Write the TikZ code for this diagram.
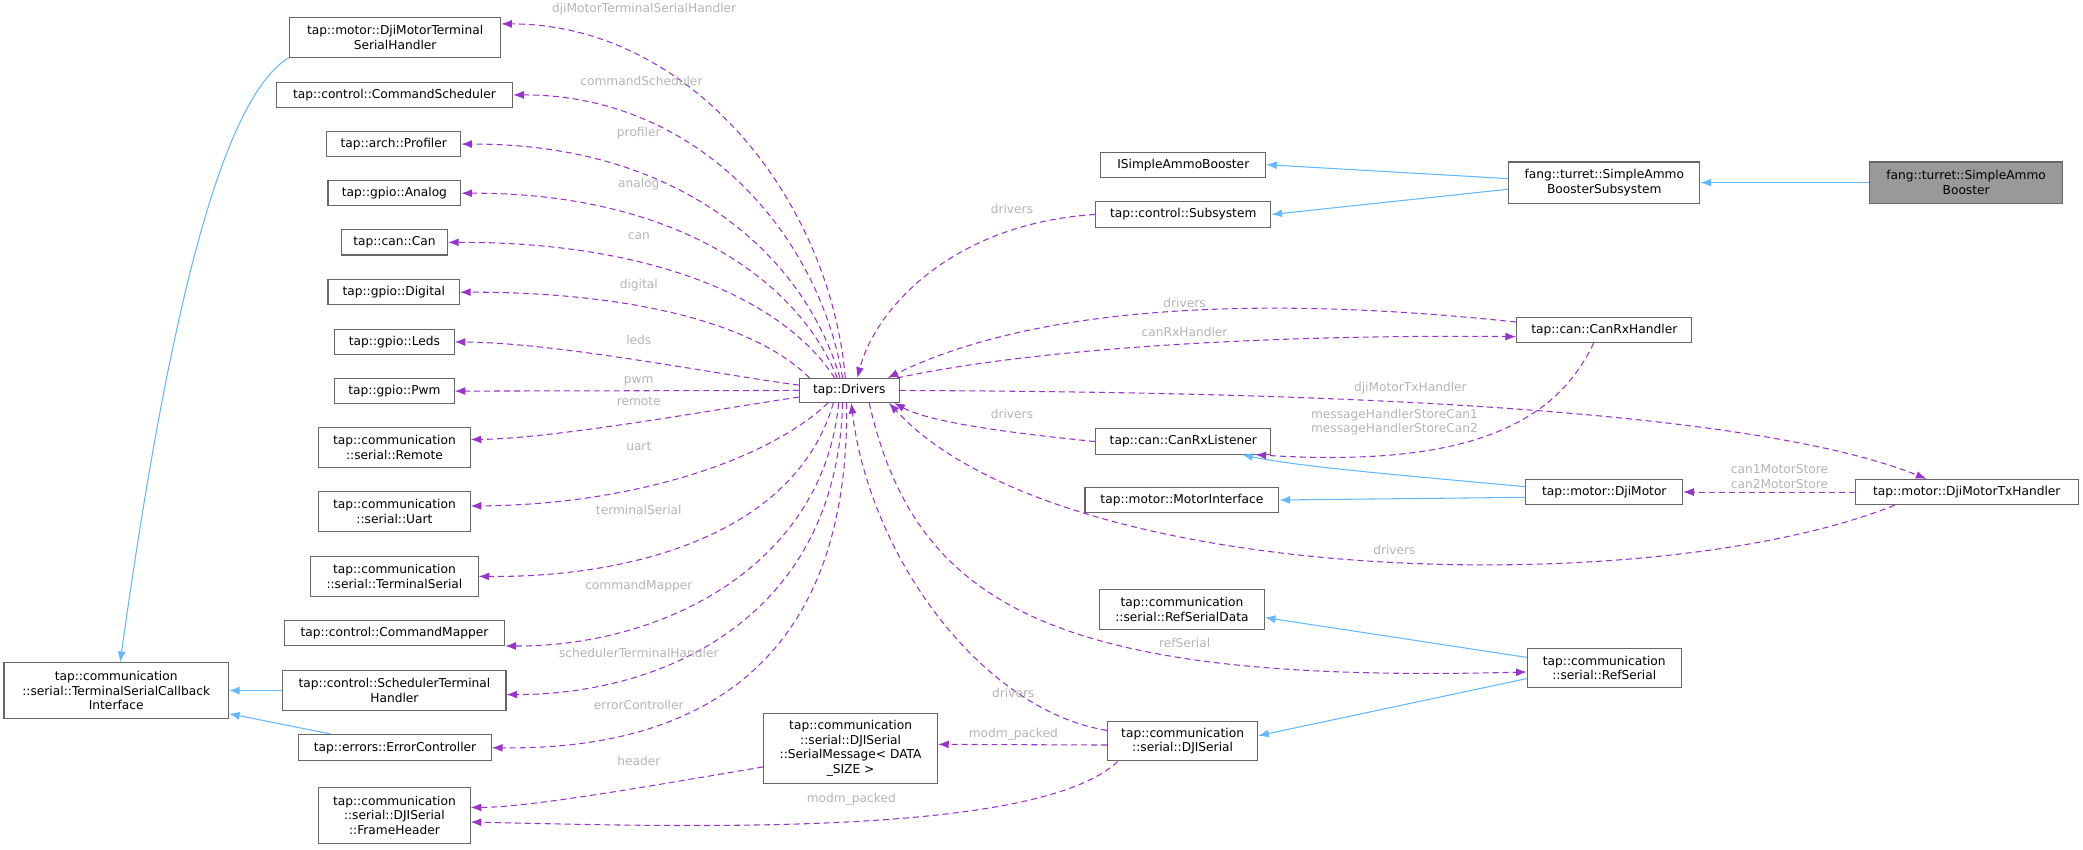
\documentclass[tikz,border=0pt]{standalone}
\usepackage{fontspec}
\setmainfont{DejaVu Sans}
\usetikzlibrary{arrows.meta,calc}
\definecolor{dep}{HTML}{9A32CD}
\definecolor{inh}{HTML}{63B8FF}
\definecolor{lbl}{HTML}{B4B4B4}
\definecolor{brd}{HTML}{666666}
\definecolor{cur}{HTML}{999999}
\begin{document}
\begin{tikzpicture}[x=1pt,y=-1pt,
  font=\fontsize{9.2}{11}\selectfont,
  box/.style={draw=brd,fill=white,line width=0.8pt,inner sep=0pt,align=center,minimum height=#1},
  box/.default=19,
  dep/.style={draw=dep,line width=0.8pt,dash pattern=on 4.5pt off 3pt,-{Latex[length=8pt,width=6pt]}},
  inh/.style={draw=inh,line width=0.8pt,-{Latex[length=8pt,width=6pt]}},
  lab/.style={text=lbl,inner sep=0pt,align=center}]
\useasboundingbox (0,0) rectangle (1568.5,639.3);
% left column
\node[box=30,minimum width=159] (dmt) at (297.5,28) {tap::motor::DjiMotorTerminal\\SerialHandler};
\node[box,minimum width=178] (csch) at (297,71.5) {tap::control::CommandScheduler};
\node[box,minimum width=101] (prof) at (296.5,108.5) {tap::arch::Profiler};
\node[box,minimum width=100] (ana) at (297,145.5) {tap::gpio::Analog};
\node[box,minimum width=80] (can) at (297,182.5) {tap::can::Can};
\node[box,minimum width=99] (dig) at (296.5,220) {tap::gpio::Digital};
\node[box,minimum width=90] (leds) at (297,257.5) {tap::gpio::Leds};
\node[box,minimum width=90] (pwm) at (297,294.5) {tap::gpio::Pwm};
\node[box=30,minimum width=114] (rem) at (297,337) {tap::communication\\::serial::Remote};
\node[box=30,minimum width=114] (uart) at (297,385) {tap::communication\\::serial::Uart};
\node[box=30,minimum width=126] (tser) at (297,434) {tap::communication\\::serial::TerminalSerial};
\node[box,minimum width=166] (cmap) at (297,476.5) {tap::control::CommandMapper};
\node[box=30,minimum width=168] (sth) at (297,520) {tap::control::SchedulerTerminal\\Handler};
\node[box=20,minimum width=145] (ec) at (297.5,563) {tap::errors::ErrorController};
\node[box=42,minimum width=114] (fh) at (297,614) {tap::communication\\::serial::DJISerial\\::FrameHeader};
\node[box=42,minimum width=169] (tsci) at (87.5,520) {tap::communication\\::serial::TerminalSerialCallback\\Interface};
% centre / right
\node[box=18,minimum width=75] (drv) at (639.5,294) {tap::Drivers};
\node[box=53,minimum width=131] (sm) at (640.5,563.5) {tap::communication\\::serial::DJISerial\\::SerialMessage< DATA\\\_SIZE >};
\node[box=30,minimum width=113] (dji) at (890.5,558) {tap::communication\\::serial::DJISerial};
\node[box=30,minimum width=124] (rsd) at (890,459) {tap::communication\\::serial::RefSerialData};
\node[box=30,minimum width=116] (rs) at (1208,503) {tap::communication\\::serial::RefSerial};
\node[box,minimum width=146] (mi) at (890,376.5) {tap::motor::MotorInterface};
\node[box,minimum width=132] (crl) at (891,332.5) {tap::can::CanRxListener};
\node[box,minimum width=132] (sub) at (891,161.5) {tap::control::Subsystem};
\node[box,minimum width=124] (isab) at (891,124) {ISimpleAmmoBooster};
\node[box=31,minimum width=144] (sabs) at (1208,137.5) {fang::turret::SimpleAmmo\\BoosterSubsystem};
\node[box=31,minimum width=145,fill=cur] (sab) at (1480.5,137.5) {fang::turret::SimpleAmmo\\Booster};
\node[box,minimum width=132] (crh) at (1208,248.5) {tap::can::CanRxHandler};
\node[box,minimum width=118] (dm) at (1208,370.5) {tap::motor::DjiMotor};
\node[box,minimum width=168] (dtx) at (1481,370.5) {tap::motor::DjiMotorTxHandler};
% inheritance
\draw[inh] (sab.west) -- (sabs.east);
\draw[inh] ($(sabs.west)+(0,-3)$) -- (isab.east);
\draw[inh] ($(sabs.west)+(0,5)$) -- (sub.east);
\draw[inh] ($(dm.west)+(0,-4)$) .. controls (1080,360) and (980,352) .. ($(crl.south east)+(-22,0)$);
\draw[inh] ($(dm.west)+(0,4)$) -- (mi.east);
\draw[inh] ($(rs.west)+(0,-8)$) -- ($(rsd.east)+(0,6)$);
\draw[inh] ($(rs.west)+(0,8)$) -- ($(dji.east)+(0,-4)$);
\draw[inh] (dmt.south west) .. controls (165,75) and (125,250) .. ($(tsci.north)+(3,0)$);
\draw[inh] (sth.west) -- (sth.west -| tsci.east);
\draw[inh] ($(ec.north west)+(24,0)$) -- ($(tsci.south east)+(0,-4)$);
% drivers -> left column
\draw[dep] ($(drv.north)+(-3,0)$) .. controls (625,150) and (520,18) .. ($(dmt.east)+(0,-10)$);
\draw[dep] ($(drv.north)+(-5,0)$) .. controls (615,170) and (520,71) .. (csch.east);
\draw[dep] ($(drv.north)+(-7,0)$) .. controls (605,190) and (510,108) .. (prof.east);
\draw[dep] ($(drv.north)+(-9,0)$) .. controls (598,205) and (500,145) .. (ana.east);
\draw[dep] ($(drv.north)+(-11,0)$) .. controls (590,225) and (490,182) .. (can.east);
\draw[dep] ($(drv.north west)+(8,0)$) .. controls (570,245) and (480,220) .. (dig.east);
\draw[dep] ($(drv.west)+(0,-4)$) .. controls (540,282) and (420,258) .. (leds.east);
\draw[dep] (drv.west) -- (pwm.east);
\draw[dep] ($(drv.west)+(0,5)$) .. controls (540,308) and (420,330) .. ($(rem.east)+(0,-6)$);
\draw[dep] ($(drv.south)+(-16,0)$) .. controls (580,345) and (480,380) .. ($(uart.east)+(0,-4)$);
\draw[dep] ($(drv.south)+(-12,0)$) .. controls (600,400) and (480,435) .. (tser.east);
\draw[dep] ($(drv.south)+(-8,0)$) .. controls (620,425) and (500,487) .. (cmap.south east);
\draw[dep] ($(drv.south)+(-5,0)$) .. controls (630,465) and (500,523) .. ($(sth.east)+(0,3)$);
\draw[dep] ($(drv.south)+(-2,0)$) .. controls (640,505) and (520,565) .. (ec.east);
\draw[dep] ($(sm.west)+(0,14)$) .. controls (500,590) and (400,608) .. ($(fh.east)+(0,-6)$);
\draw[dep] ($(dji.south west)+(8,0)$) .. controls (780,632) and (500,622) .. ($(fh.east)+(0,5)$);
\draw[dep] ($(dji.west)+(0,3)$) -- ($(sm.east)+(0,-3)$);
% into drivers
\draw[dep] ($(dji.west)+(0,-8)$) .. controls (740,535) and (655,420) .. ($(drv.south)+(1.5,0)$);
\draw[dep] (sub.west) .. controls (720,168) and (660,230) .. ($(drv.north)+(6,0)$);
\draw[dep] ($(crh.west)+(0,-6)$) .. controls (950,222) and (780,230) .. ($(drv.north east)+(-9,0)$);
\draw[dep] (crl.west) .. controls (760,326) and (700,318) .. ($(drv.south east)+(-4,0)$);
\draw[dep] ($(dtx.south west)+(30,0)$) .. controls (1250,452) and (800,445) .. ($(drv.south east)+(-8,0)$);
% drivers -> right
\draw[dep] ($(drv.north east)+(-2,0)$) .. controls (800,258) and (1000,252) .. ($(crh.west)+(0,5)$);
\draw[dep] (drv.east) .. controls (900,295) and (1300,300) .. ($(dtx.north west)+(54,0)$);
\draw[dep] ($(drv.south)+(15,0)$) .. controls (690,460) and (800,515) .. ($(rs.west)+(0,3)$);
\draw[dep] ($(crh.south)+(-8,0)$) .. controls (1170,322) and (1100,352) .. ($(crl.south east)+(-12,0)$);
\draw[dep] (dtx.west) -- (dm.east);
% labels
\node[lab] at (485,7) {djiMotorTerminalSerialHandler};
\node[lab] at (483,61) {commandScheduler};
\node[lab] at (481,100) {profiler};
\node[lab] at (481,139) {analog};
\node[lab] at (481,178) {can};
\node[lab] at (481,215) {digital};
\node[lab] at (481,256) {leds};
\node[lab] at (481,287) {pwm};
\node[lab] at (481,302) {remote};
\node[lab] at (481,336) {uart};
\node[lab] at (481,384) {terminalSerial};
\node[lab] at (481,441) {commandMapper};
\node[lab] at (481,492) {schedulerTerminalHandler};
\node[lab] at (481,531) {errorController};
\node[lab] at (481,573) {header};
\node[lab] at (641,602) {modm\_packed};
\node[lab] at (763,553) {modm\_packed};
\node[lab] at (763,522) {drivers};
\node[lab] at (762,157) {drivers};
\node[lab] at (892,228) {drivers};
\node[lab] at (892,250) {canRxHandler};
\node[lab] at (1062,292) {djiMotorTxHandler};
\node[lab] at (762,312) {drivers};
\node[lab] at (1050,318) {messageHandlerStoreCan1\\messageHandlerStoreCan2};
\node[lab] at (1340,359) {can1MotorStore\\can2MotorStore};
\node[lab] at (1050,414) {drivers};
\node[lab] at (892,484) {refSerial};
\end{tikzpicture}
\end{document}
